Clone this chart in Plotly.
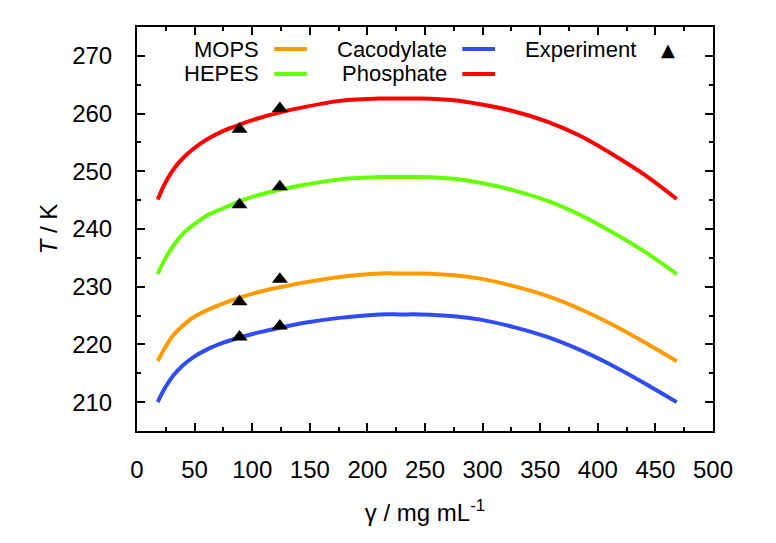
import plotly.graph_objects as go

# concentration grid (mg/mL) shared by the four fitted curves
gamma = [18, 23, 31.5, 40, 49, 60.5, 75, 89, 104, 124, 147, 176, 211, 228,
         246, 275, 298, 327, 356, 385, 413, 442, 468.5]

t_mops = [217.1, 219.0, 221.6, 223.3, 224.7, 225.9, 227.1, 228.1, 229.0, 229.9, 230.8, 231.7, 232.3, 232.3,
          232.3, 232.0, 231.4, 230.1, 228.4, 226.1, 223.4, 220.2, 217.1]
t_hepes = [232.2, 234.3, 237.1, 239.2, 240.7, 242.3, 243.6, 244.8, 245.8, 246.8, 247.7, 248.6, 249.0, 249.0,
           249.0, 248.7, 248.0, 246.7, 244.9, 242.4, 239.4, 235.9, 232.2]
t_cacodylate = [210.0, 212.0, 214.6, 216.4, 217.8, 219.1, 220.3, 221.2, 222.0, 222.9, 223.8, 224.6, 225.2, 225.2,
                225.2, 224.9, 224.3, 223.0, 221.3, 219.0, 216.3, 213.1, 210.0]
t_phosphate = [245.1, 247.4, 250.3, 252.3, 253.9, 255.5, 257.0, 258.1, 259.1, 260.2, 261.2, 262.2, 262.6, 262.6,
               262.6, 262.3, 261.6, 260.4, 258.6, 256.1, 252.9, 249.2, 245.2]

# experimental points
exp_gamma = [89, 124, 89, 124, 89, 124, 89, 124]
exp_t = [221.3, 223.2, 227.4, 231.3, 244.2, 247.3, 257.3, 260.9]

COLORS = {
    'MOPS': '#ff9a00',
    'HEPES': '#66ff00',
    'Cacodylate': '#2f4cf5',
    'Phosphate': '#ff0000',
}

FONT = 'Liberation Sans, Arial, sans-serif'

fig = go.Figure()
for name, temps in [('Cacodylate', t_cacodylate), ('MOPS', t_mops),
                    ('HEPES', t_hepes), ('Phosphate', t_phosphate)]:
    fig.add_trace(go.Scatter(x=gamma, y=temps, mode='lines', name=name,
                             line=dict(color=COLORS[name], width=4, shape='spline', smoothing=0.8)))

fig.add_trace(go.Scatter(x=exp_gamma, y=exp_t, mode='markers', name='Experiment',
                         marker=dict(symbol='triangle-up', size=14, color='black')))

# gnuplot-style key: text right-aligned, sample on its right
key = [
    ('MOPS', 0.215, 0.9455, 'line'),
    ('HEPES', 0.215, 0.8837, 'line'),
    ('Cacodylate', 0.5417, 0.9455, 'line'),
    ('Phosphate', 0.5417, 0.8837, 'line'),
    ('Experiment', 0.8698, 0.9455, 'marker'),
]
for label, xr, yr, kind in key:
    fig.add_annotation(x=xr, y=yr, xref='paper', yref='paper', text=label,
                       showarrow=False, xanchor='right', yanchor='middle',
                       font=dict(family=FONT, size=22, color='black'))
    if kind == 'line':
        fig.add_shape(type='line', xref='paper', yref='paper',
                      x0=xr + 0.023, x1=xr + 0.08, y0=yr, y1=yr,
                      line=dict(color=COLORS[label], width=4))
    else:
        fig.add_annotation(x=xr + 0.052, y=yr, xref='paper', yref='paper', text='▲',
                           showarrow=False, xanchor='center', yanchor='middle',
                           font=dict(family='DejaVu Sans', size=18, color='black'))

axis_style = dict(
    showline=True, linecolor='black', linewidth=2, mirror='allticks',
    ticks='inside', ticklen=8, tickwidth=1.5, tickcolor='black',
    showgrid=False, zeroline=False,
    tickfont=dict(family=FONT, size=24, color='black'),
)

fig.update_xaxes(range=[0, 500], dtick=50,
                 minor=dict(dtick=25, ticks='inside', ticklen=4, tickcolor='black'),
                 title=dict(text='γ / mg mL<sup>-1</sup>', font=dict(family=FONT, size=24, color='black'),
                            standoff=22),
                 ticklabelstandoff=16,
                 **axis_style)
fig.update_yaxes(range=[205, 275], dtick=10,
                 minor=dict(dtick=5, ticks='inside', ticklen=4, tickcolor='black'),
                 title=dict(text='<i>T</i> / K', font=dict(family=FONT, size=24, color='black'),
                            standoff=8),
                 ticklabelstandoff=18,
                 **axis_style)

# page body adds 8px, so margins are shifted to keep the frame at 137..713 x 27..431
fig.update_layout(
    width=776, height=543,
    margin=dict(l=129, r=71, t=19, b=120),
    plot_bgcolor='white', paper_bgcolor='white',
    showlegend=False,
    font=dict(family=FONT, color='black'),
)

fig.write_html('out.html')
